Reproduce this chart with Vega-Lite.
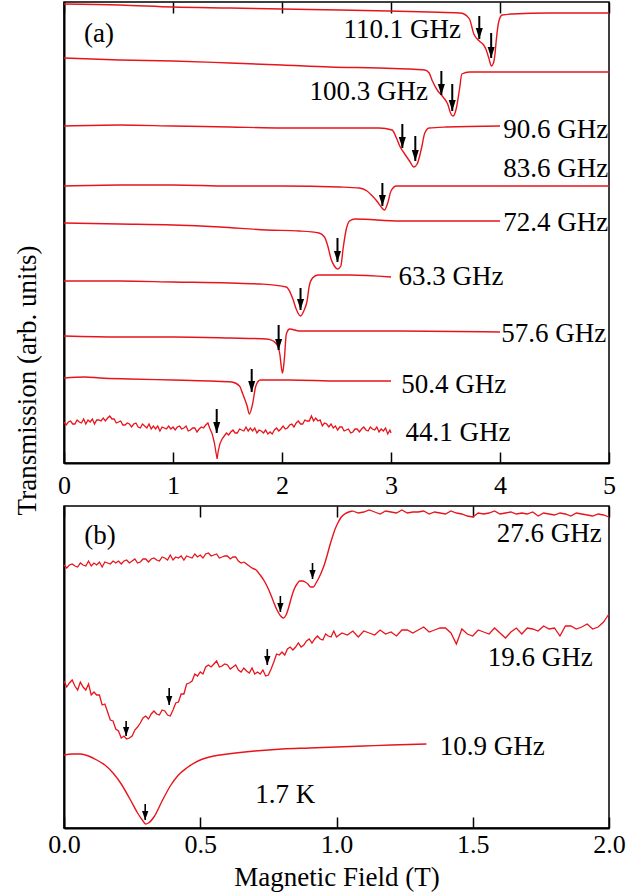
{
"$schema": "https://vega.github.io/schema/vega-lite/v6.json",
"padding": {"left": 12, "top": 0, "right": 0, "bottom": 4},
"bounds": "flush",
"spacing": 43,
"config": {
  "font": "Liberation Serif",
  "view": {"stroke": "black", "strokeWidth": 1.5},
  "axis": {"labelFont": "Liberation Serif", "labelFontSize": 26, "labelColor": "black", "labelFlush": false, "titleFont": "Liberation Serif", "titleFontSize": 27, "titleFontWeight": "normal", "titleColor": "black", "domainColor": "black", "domainWidth": 2, "tickColor": "black", "tickWidth": 1.5, "grid": false}
},
"datasets": {
  "a": [
{"f":"110.1","B":0,"T":45.9},{"f":"110.1","B":0.51,"T":45.8},{"f":"110.1","B":1.0,"T":45.6},{"f":"110.1","B":1.52,"T":45.5},{"f":"110.1","B":2.0,"T":45.4},{"f":"110.1","B":2.53,"T":45.3},{"f":"110.1","B":2.98,"T":45.2},{"f":"110.1","B":3.35,"T":45.1},{"f":"110.1","B":3.63,"T":45.0},{"f":"110.1","B":3.67,"T":44.9},{"f":"110.1","B":3.72,"T":44.4},{"f":"110.1","B":3.76,"T":42.9},{"f":"110.1","B":3.81,"T":42.2},{"f":"110.1","B":3.85,"T":41.8},{"f":"110.1","B":3.87,"T":41.4},{"f":"110.1","B":3.9,"T":40.4},{"f":"110.1","B":3.92,"T":39.7},{"f":"110.1","B":3.94,"T":40.0},{"f":"110.1","B":3.955,"T":41.0},{"f":"110.1","B":3.965,"T":42.2},{"f":"110.1","B":3.99,"T":44.2},{"f":"110.1","B":4.02,"T":44.8},{"f":"110.1","B":4.11,"T":44.9},{"f":"110.1","B":4.45,"T":45.0},{"f":"110.1","B":5.0,"T":45.0},
{"f":"100.3","B":0,"T":40.5},{"f":"100.3","B":0.51,"T":40.3},{"f":"100.3","B":1.0,"T":40.2},{"f":"100.3","B":1.52,"T":40.0},{"f":"100.3","B":2.0,"T":39.8},{"f":"100.3","B":2.44,"T":39.6},{"f":"100.3","B":2.89,"T":39.5},{"f":"100.3","B":3.17,"T":39.4},{"f":"100.3","B":3.31,"T":39.3},{"f":"100.3","B":3.35,"T":39.0},{"f":"100.3","B":3.38,"T":38.2},{"f":"100.3","B":3.43,"T":37.2},{"f":"100.3","B":3.47,"T":36.7},{"f":"100.3","B":3.52,"T":35.9},{"f":"100.3","B":3.55,"T":34.9},{"f":"100.3","B":3.57,"T":34.7},{"f":"100.3","B":3.6,"T":35.5},{"f":"100.3","B":3.63,"T":37.5},{"f":"100.3","B":3.65,"T":38.9},{"f":"100.3","B":3.72,"T":39.1},{"f":"100.3","B":4.18,"T":39.1},{"f":"100.3","B":5.0,"T":39.1},
{"f":"90.6","B":0,"T":33.7},{"f":"90.6","B":0.51,"T":33.8},{"f":"90.6","B":1.0,"T":33.7},{"f":"90.6","B":1.52,"T":33.6},{"f":"90.6","B":2.0,"T":33.5},{"f":"90.6","B":2.53,"T":33.5},{"f":"90.6","B":2.89,"T":33.5},{"f":"90.6","B":3.01,"T":33.3},{"f":"90.6","B":3.05,"T":32.5},{"f":"90.6","B":3.08,"T":31.7},{"f":"90.6","B":3.12,"T":31.0},{"f":"90.6","B":3.17,"T":30.2},{"f":"90.6","B":3.21,"T":29.6},{"f":"90.6","B":3.24,"T":29.9},{"f":"90.6","B":3.28,"T":31.5},{"f":"90.6","B":3.31,"T":33.0},{"f":"90.6","B":3.35,"T":33.5},{"f":"90.6","B":3.51,"T":33.6},{"f":"90.6","B":4.0,"T":33.7},
{"f":"83.6","B":0,"T":27.7},{"f":"83.6","B":0.51,"T":27.8},{"f":"83.6","B":1.0,"T":27.8},{"f":"83.6","B":1.52,"T":27.7},{"f":"83.6","B":2.0,"T":27.7},{"f":"83.6","B":2.53,"T":27.6},{"f":"83.6","B":2.71,"T":27.5},{"f":"83.6","B":2.78,"T":27.2},{"f":"83.6","B":2.82,"T":26.8},{"f":"83.6","B":2.87,"T":26.2},{"f":"83.6","B":2.91,"T":25.6},{"f":"83.6","B":2.94,"T":25.3},{"f":"83.6","B":2.97,"T":26.0},{"f":"83.6","B":3.0,"T":27.2},{"f":"83.6","B":3.05,"T":27.7},{"f":"83.6","B":3.54,"T":27.7},{"f":"83.6","B":4.27,"T":27.7},{"f":"83.6","B":5.0,"T":27.7},
{"f":"72.4","B":0,"T":24.0},{"f":"72.4","B":0.51,"T":23.9},{"f":"72.4","B":1.0,"T":23.8},{"f":"72.4","B":1.43,"T":23.6},{"f":"72.4","B":1.86,"T":23.3},{"f":"72.4","B":2.16,"T":23.2},{"f":"72.4","B":2.34,"T":23.0},{"f":"72.4","B":2.39,"T":22.6},{"f":"72.4","B":2.42,"T":21.7},{"f":"72.4","B":2.45,"T":20.4},{"f":"72.4","B":2.48,"T":19.7},{"f":"72.4","B":2.51,"T":19.4},{"f":"72.4","B":2.54,"T":19.7},{"f":"72.4","B":2.56,"T":21.4},{"f":"72.4","B":2.59,"T":23.4},{"f":"72.4","B":2.62,"T":24.2},{"f":"72.4","B":2.67,"T":24.4},{"f":"72.4","B":3.08,"T":24.2},{"f":"72.4","B":3.54,"T":24.2},{"f":"72.4","B":4.0,"T":24.2},
{"f":"63.3","B":0,"T":18.2},{"f":"63.3","B":0.51,"T":18.2},{"f":"63.3","B":1.0,"T":18.1},{"f":"63.3","B":1.52,"T":18.0},{"f":"63.3","B":1.8,"T":17.9},{"f":"63.3","B":2.04,"T":17.6},{"f":"63.3","B":2.1,"T":16.4},{"f":"63.3","B":2.13,"T":15.4},{"f":"63.3","B":2.17,"T":14.7},{"f":"63.3","B":2.2,"T":15.2},{"f":"63.3","B":2.23,"T":16.2},{"f":"63.3","B":2.25,"T":17.7},{"f":"63.3","B":2.28,"T":18.5},{"f":"63.3","B":2.33,"T":18.8},{"f":"63.3","B":2.62,"T":18.8},{"f":"63.3","B":3.0,"T":18.6},
{"f":"57.6","B":0,"T":12.7},{"f":"57.6","B":0.51,"T":12.6},{"f":"57.6","B":1.0,"T":12.6},{"f":"57.6","B":1.52,"T":12.5},{"f":"57.6","B":1.86,"T":12.4},{"f":"57.6","B":1.92,"T":12.2},{"f":"57.6","B":1.96,"T":11.7},{"f":"57.6","B":1.98,"T":10.9},{"f":"57.6","B":1.995,"T":9.5},{"f":"57.6","B":2.005,"T":9.0},{"f":"57.6","B":2.02,"T":10.2},{"f":"57.6","B":2.04,"T":12.9},{"f":"57.6","B":2.07,"T":13.4},{"f":"57.6","B":2.16,"T":13.2},{"f":"57.6","B":3.08,"T":13.2},{"f":"57.6","B":4.0,"T":13.1},
{"f":"50.4","B":0,"T":8.5},{"f":"50.4","B":0.19,"T":8.6},{"f":"50.4","B":0.33,"T":8.5},{"f":"50.4","B":0.6,"T":8.4},{"f":"50.4","B":1.0,"T":8.3},{"f":"50.4","B":1.34,"T":8.2},{"f":"50.4","B":1.54,"T":8.1},{"f":"50.4","B":1.61,"T":7.7},{"f":"50.4","B":1.64,"T":6.9},{"f":"50.4","B":1.68,"T":5.7},{"f":"50.4","B":1.7,"T":4.9},{"f":"50.4","B":1.73,"T":5.9},{"f":"50.4","B":1.76,"T":7.7},{"f":"50.4","B":1.8,"T":8.3},{"f":"50.4","B":2.07,"T":8.3},{"f":"50.4","B":2.53,"T":8.2},{"f":"50.4","B":3.0,"T":8.2}
  ],
  "aN": [
{"f":"44.1","B":0,"T":4.1},{"f":"44.1","B":0.02,"T":3.8},{"f":"44.1","B":0.04,"T":4.1},{"f":"44.1","B":0.06,"T":4.2},{"f":"44.1","B":0.08,"T":3.9},{"f":"44.1","B":0.1,"T":3.9},{"f":"44.1","B":0.12,"T":4.3},{"f":"44.1","B":0.14,"T":4.1},{"f":"44.1","B":0.16,"T":4.0},{"f":"44.1","B":0.18,"T":4.4},{"f":"44.1","B":0.2,"T":3.9},{"f":"44.1","B":0.22,"T":4.3},{"f":"44.1","B":0.24,"T":4.1},{"f":"44.1","B":0.26,"T":4.4},{"f":"44.1","B":0.28,"T":3.9},{"f":"44.1","B":0.3,"T":4.3},{"f":"44.1","B":0.32,"T":4.3},{"f":"44.1","B":0.34,"T":4.2},{"f":"44.1","B":0.36,"T":4.5},{"f":"44.1","B":0.38,"T":4.2},{"f":"44.1","B":0.4,"T":4.5},{"f":"44.1","B":0.42,"T":4.7},{"f":"44.1","B":0.44,"T":4.4},{"f":"44.1","B":0.46,"T":4.4},{"f":"44.1","B":0.48,"T":4.0},{"f":"44.1","B":0.5,"T":4.1},{"f":"44.1","B":0.52,"T":4.2},{"f":"44.1","B":0.54,"T":3.8},{"f":"44.1","B":0.56,"T":3.8},{"f":"44.1","B":0.58,"T":4.0},{"f":"44.1","B":0.6,"T":3.9},{"f":"44.1","B":0.62,"T":3.6},{"f":"44.1","B":0.64,"T":3.9},{"f":"44.1","B":0.66,"T":4.0},{"f":"44.1","B":0.68,"T":3.6},{"f":"44.1","B":0.7,"T":3.5},{"f":"44.1","B":0.72,"T":3.9},{"f":"44.1","B":0.74,"T":3.7},{"f":"44.1","B":0.76,"T":3.5},{"f":"44.1","B":0.78,"T":3.9},{"f":"44.1","B":0.8,"T":3.4},{"f":"44.1","B":0.82,"T":3.7},{"f":"44.1","B":0.84,"T":3.4},{"f":"44.1","B":0.86,"T":3.7},{"f":"44.1","B":0.88,"T":3.2},{"f":"44.1","B":0.9,"T":3.6},{"f":"44.1","B":0.92,"T":3.5},{"f":"44.1","B":0.94,"T":3.4},{"f":"44.1","B":0.96,"T":3.7},{"f":"44.1","B":0.98,"T":3.4},{"f":"44.1","B":1.0,"T":3.6},{"f":"44.1","B":1.02,"T":3.3},{"f":"44.1","B":1.04,"T":3.6},{"f":"44.1","B":1.06,"T":3.7},{"f":"44.1","B":1.08,"T":3.4},{"f":"44.1","B":1.1,"T":3.5},{"f":"44.1","B":1.12,"T":3.7},{"f":"44.1","B":1.14,"T":3.2},{"f":"44.1","B":1.16,"T":3.3},{"f":"44.1","B":1.18,"T":3.5},{"f":"44.1","B":1.2,"T":3.5},{"f":"44.1","B":1.22,"T":3.1},{"f":"44.1","B":1.24,"T":3.4},{"f":"44.1","B":1.26,"T":3.6},{"f":"44.1","B":1.28,"T":3.5},{"f":"44.1","B":1.3,"T":3.8},{"f":"44.1","B":1.32,"T":4.0},{"f":"44.1","B":1.34,"T":3.4},{"f":"44.1","B":1.36,"T":2.9},{"f":"44.1","B":1.38,"T":2.0},{"f":"44.1","B":1.395,"T":1.0},{"f":"44.1","B":1.405,"T":0.4},{"f":"44.1","B":1.415,"T":1.2},{"f":"44.1","B":1.43,"T":1.9},{"f":"44.1","B":1.45,"T":2.4},{"f":"44.1","B":1.47,"T":2.7},{"f":"44.1","B":1.49,"T":3.0},{"f":"44.1","B":1.51,"T":2.8},{"f":"44.1","B":1.53,"T":3.1},{"f":"44.1","B":1.55,"T":3.3},{"f":"44.1","B":1.57,"T":3.0},{"f":"44.1","B":1.59,"T":3.0},{"f":"44.1","B":1.61,"T":3.4},{"f":"44.1","B":1.63,"T":3.3},{"f":"44.1","B":1.65,"T":3.2},{"f":"44.1","B":1.67,"T":3.6},{"f":"44.1","B":1.69,"T":3.2},{"f":"44.1","B":1.71,"T":3.5},{"f":"44.1","B":1.73,"T":3.2},{"f":"44.1","B":1.75,"T":3.5},{"f":"44.1","B":1.77,"T":3.0},{"f":"44.1","B":1.79,"T":3.3},{"f":"44.1","B":1.81,"T":3.2},{"f":"44.1","B":1.83,"T":3.0},{"f":"44.1","B":1.85,"T":3.3},{"f":"44.1","B":1.87,"T":2.9},{"f":"44.1","B":1.89,"T":3.1},{"f":"44.1","B":1.91,"T":2.9},{"f":"44.1","B":1.93,"T":3.3},{"f":"44.1","B":1.95,"T":3.5},{"f":"44.1","B":1.97,"T":3.2},{"f":"44.1","B":1.99,"T":3.4},{"f":"44.1","B":2.01,"T":3.7},{"f":"44.1","B":2.03,"T":3.4},{"f":"44.1","B":2.05,"T":3.5},{"f":"44.1","B":2.07,"T":3.8},{"f":"44.1","B":2.09,"T":3.9},{"f":"44.1","B":2.11,"T":3.6},{"f":"44.1","B":2.13,"T":4.0},{"f":"44.1","B":2.15,"T":4.2},{"f":"44.1","B":2.17,"T":3.9},{"f":"44.1","B":2.19,"T":3.9},{"f":"44.1","B":2.21,"T":4.3},{"f":"44.1","B":2.23,"T":4.2},{"f":"44.1","B":2.25,"T":4.2},{"f":"44.1","B":2.27,"T":4.7},{"f":"44.1","B":2.29,"T":4.2},{"f":"44.1","B":2.31,"T":4.5},{"f":"44.1","B":2.33,"T":4.2},{"f":"44.1","B":2.35,"T":4.3},{"f":"44.1","B":2.37,"T":3.7},{"f":"44.1","B":2.39,"T":4.0},{"f":"44.1","B":2.41,"T":3.9},{"f":"44.1","B":2.43,"T":3.6},{"f":"44.1","B":2.45,"T":3.9},{"f":"44.1","B":2.47,"T":3.5},{"f":"44.1","B":2.49,"T":3.7},{"f":"44.1","B":2.51,"T":3.3},{"f":"44.1","B":2.53,"T":3.6},{"f":"44.1","B":2.55,"T":3.6},{"f":"44.1","B":2.57,"T":3.2},{"f":"44.1","B":2.59,"T":3.3},{"f":"44.1","B":2.61,"T":3.4},{"f":"44.1","B":2.63,"T":3.0},{"f":"44.1","B":2.65,"T":3.1},{"f":"44.1","B":2.67,"T":3.4},{"f":"44.1","B":2.69,"T":3.4},{"f":"44.1","B":2.71,"T":3.1},{"f":"44.1","B":2.73,"T":3.4},{"f":"44.1","B":2.75,"T":3.6},{"f":"44.1","B":2.77,"T":3.3},{"f":"44.1","B":2.79,"T":3.2},{"f":"44.1","B":2.81,"T":3.6},{"f":"44.1","B":2.83,"T":3.4},{"f":"44.1","B":2.85,"T":3.3},{"f":"44.1","B":2.87,"T":3.6},{"f":"44.1","B":2.89,"T":3.1},{"f":"44.1","B":2.91,"T":3.4},{"f":"44.1","B":2.93,"T":3.2},{"f":"44.1","B":2.95,"T":3.5},{"f":"44.1","B":2.97,"T":2.9},{"f":"44.1","B":2.99,"T":3.3},{"f":"44.1","B":3.0,"T":3.0}
  ],
  "aArrows": [
{"B":3.81,"T1":44.7,"T2":42.4},{"B":3.919,"T1":43.0,"T2":40.5},{"B":3.462,"T1":39.2,"T2":36.8},{"B":3.562,"T1":37.9,"T2":35.2},{"B":3.104,"T1":33.9,"T2":31.5},{"B":3.223,"T1":32.7,"T2":30.2},{"B":2.921,"T1":28.0,"T2":25.7},{"B":2.509,"T1":22.5,"T2":20.1},{"B":2.17,"T1":17.5,"T2":15.3},{"B":1.969,"T1":13.8,"T2":11.3},{"B":1.722,"T1":9.4,"T2":7.1},{"B":1.401,"T1":5.4,"T2":3.0}
  ],
  "aLabels": [
{"B":2.564,"T":43.3,"text":"110.1 GHz"},{"B":2.253,"T":37.1,"text":"100.3 GHz"},{"B":4.029,"T":33.3,"text":"90.6 GHz"},{"B":4.029,"T":29.4,"text":"83.6 GHz"},{"B":4.029,"T":24.0,"text":"72.4 GHz"},{"B":3.068,"T":18.6,"text":"63.3 GHz"},{"B":4.011,"T":12.9,"text":"57.6 GHz"},{"B":3.095,"T":7.8,"text":"50.4 GHz"},{"B":3.132,"T":3.0,"text":"44.1 GHz"},{"B":0.183,"T":42.9,"text":"(a)"}
  ],
  "b": [
{"f":"27.6s","B":0.66,"T":26.6},{"f":"27.6s","B":0.675,"T":26.3},{"f":"27.6s","B":0.69,"T":26.0},{"f":"27.6s","B":0.705,"T":25.8},{"f":"27.6s","B":0.72,"T":25.3},{"f":"27.6s","B":0.735,"T":24.7},{"f":"27.6s","B":0.75,"T":23.9},{"f":"27.6s","B":0.765,"T":22.9},{"f":"27.6s","B":0.78,"T":21.9},{"f":"27.6s","B":0.795,"T":21.2},{"f":"27.6s","B":0.805,"T":21.0},{"f":"27.6s","B":0.815,"T":21.3},{"f":"27.6s","B":0.825,"T":22.1},{"f":"27.6s","B":0.835,"T":23.1},{"f":"27.6s","B":0.845,"T":23.9},{"f":"27.6s","B":0.855,"T":24.4},{"f":"27.6s","B":0.865,"T":24.7},{"f":"27.6s","B":0.875,"T":24.7},{"f":"27.6s","B":0.885,"T":24.6},{"f":"27.6s","B":0.895,"T":24.4},{"f":"27.6s","B":0.905,"T":24.1},{"f":"27.6s","B":0.915,"T":24.1},{"f":"27.6s","B":0.925,"T":24.5},{"f":"27.6s","B":0.935,"T":25.0},{"f":"27.6s","B":0.945,"T":25.6},{"f":"27.6s","B":0.955,"T":26.3},{"f":"27.6s","B":0.965,"T":27.2},{"f":"27.6s","B":0.975,"T":28.2},{"f":"27.6s","B":0.985,"T":29.1},{"f":"27.6s","B":0.995,"T":29.9},{"f":"27.6s","B":1.005,"T":30.5},{"f":"27.6s","B":1.015,"T":31.0},{"f":"27.6s","B":1.03,"T":31.4},{"f":"27.6s","B":1.045,"T":31.6},{"f":"27.6s","B":1.06,"T":31.7},
{"f":"10.9","B":0.0,"T":7.3},{"f":"10.9","B":0.03,"T":7.4},{"f":"10.9","B":0.06,"T":7.4},{"f":"10.9","B":0.09,"T":7.2},{"f":"10.9","B":0.12,"T":6.8},{"f":"10.9","B":0.15,"T":6.3},{"f":"10.9","B":0.18,"T":5.5},{"f":"10.9","B":0.21,"T":4.4},{"f":"10.9","B":0.24,"T":3.0},{"f":"10.9","B":0.27,"T":1.5},{"f":"10.9","B":0.29,"T":0.7},{"f":"10.9","B":0.3,"T":0.4},{"f":"10.9","B":0.31,"T":0.5},{"f":"10.9","B":0.33,"T":1.1},{"f":"10.9","B":0.36,"T":2.7},{"f":"10.9","B":0.39,"T":4.2},{"f":"10.9","B":0.42,"T":5.3},{"f":"10.9","B":0.45,"T":6.0},{"f":"10.9","B":0.5,"T":6.8},{"f":"10.9","B":0.55,"T":7.2},{"f":"10.9","B":0.6,"T":7.4},{"f":"10.9","B":0.7,"T":7.7},{"f":"10.9","B":0.8,"T":7.9},{"f":"10.9","B":0.9,"T":8.0},{"f":"10.9","B":1.0,"T":8.1},{"f":"10.9","B":1.1,"T":8.2},{"f":"10.9","B":1.2,"T":8.3},{"f":"10.9","B":1.33,"T":8.4}
  ],
  "bN": [
{"f":"27.6a","B":0.0,"T":26.3},{"f":"27.6a","B":0.01,"T":26.0},{"f":"27.6a","B":0.02,"T":26.3},{"f":"27.6a","B":0.03,"T":26.4},{"f":"27.6a","B":0.04,"T":26.2},{"f":"27.6a","B":0.05,"T":26.1},{"f":"27.6a","B":0.06,"T":26.5},{"f":"27.6a","B":0.07,"T":26.3},{"f":"27.6a","B":0.08,"T":26.2},{"f":"27.6a","B":0.09,"T":26.7},{"f":"27.6a","B":0.1,"T":26.2},{"f":"27.6a","B":0.11,"T":26.5},{"f":"27.6a","B":0.12,"T":26.3},{"f":"27.6a","B":0.13,"T":26.6},{"f":"27.6a","B":0.14,"T":26.1},{"f":"27.6a","B":0.15,"T":26.6},{"f":"27.6a","B":0.16,"T":26.5},{"f":"27.6a","B":0.17,"T":26.4},{"f":"27.6a","B":0.18,"T":26.7},{"f":"27.6a","B":0.19,"T":26.5},{"f":"27.6a","B":0.2,"T":26.7},{"f":"27.6a","B":0.21,"T":26.4},{"f":"27.6a","B":0.22,"T":26.7},{"f":"27.6a","B":0.23,"T":26.8},{"f":"27.6a","B":0.24,"T":26.5},{"f":"27.6a","B":0.25,"T":26.7},{"f":"27.6a","B":0.26,"T":26.9},{"f":"27.6a","B":0.27,"T":26.5},{"f":"27.6a","B":0.28,"T":26.6},{"f":"27.6a","B":0.29,"T":26.9},{"f":"27.6a","B":0.3,"T":26.9},{"f":"27.6a","B":0.31,"T":26.6},{"f":"27.6a","B":0.32,"T":26.9},{"f":"27.6a","B":0.33,"T":27.0},{"f":"27.6a","B":0.34,"T":26.8},{"f":"27.6a","B":0.35,"T":26.7},{"f":"27.6a","B":0.36,"T":27.1},{"f":"27.6a","B":0.37,"T":27.0},{"f":"27.6a","B":0.38,"T":26.8},{"f":"27.6a","B":0.39,"T":27.3},{"f":"27.6a","B":0.4,"T":26.8},{"f":"27.6a","B":0.41,"T":27.1},{"f":"27.6a","B":0.42,"T":27.0},{"f":"27.6a","B":0.43,"T":27.2},{"f":"27.6a","B":0.44,"T":26.8},{"f":"27.6a","B":0.45,"T":27.2},{"f":"27.6a","B":0.46,"T":27.1},{"f":"27.6a","B":0.47,"T":27.0},{"f":"27.6a","B":0.48,"T":27.4},{"f":"27.6a","B":0.49,"T":27.1},{"f":"27.6a","B":0.5,"T":27.3},{"f":"27.6a","B":0.51,"T":27.0},{"f":"27.6a","B":0.52,"T":27.4},{"f":"27.6a","B":0.53,"T":27.5},{"f":"27.6a","B":0.54,"T":27.2},{"f":"27.6a","B":0.55,"T":27.3},{"f":"27.6a","B":0.56,"T":27.4},{"f":"27.6a","B":0.57,"T":27.0},{"f":"27.6a","B":0.58,"T":27.1},{"f":"27.6a","B":0.59,"T":27.2},{"f":"27.6a","B":0.6,"T":27.2},{"f":"27.6a","B":0.61,"T":26.9},{"f":"27.6a","B":0.62,"T":27.1},{"f":"27.6a","B":0.63,"T":27.1},{"f":"27.6a","B":0.64,"T":26.7},{"f":"27.6a","B":0.65,"T":26.5},{"f":"27.6a","B":0.66,"T":26.6},
{"f":"27.6b","B":1.06,"T":31.7},{"f":"27.6b","B":1.08,"T":31.5},{"f":"27.6b","B":1.1,"T":31.6},{"f":"27.6b","B":1.12,"T":31.8},{"f":"27.6b","B":1.14,"T":31.6},{"f":"27.6b","B":1.16,"T":31.4},{"f":"27.6b","B":1.18,"T":31.7},{"f":"27.6b","B":1.2,"T":31.6},{"f":"27.6b","B":1.22,"T":31.5},{"f":"27.6b","B":1.24,"T":31.8},{"f":"27.6b","B":1.26,"T":31.5},{"f":"27.6b","B":1.28,"T":31.6},{"f":"27.6b","B":1.3,"T":31.6},{"f":"27.6b","B":1.32,"T":31.7},{"f":"27.6b","B":1.34,"T":31.4},{"f":"27.6b","B":1.36,"T":31.6},{"f":"27.6b","B":1.38,"T":31.5},{"f":"27.6b","B":1.4,"T":31.4},{"f":"27.6b","B":1.42,"T":31.7},{"f":"27.6b","B":1.44,"T":31.5},{"f":"27.6b","B":1.46,"T":31.4},{"f":"27.6b","B":1.48,"T":31.2},{"f":"27.6b","B":1.5,"T":31.1},{"f":"27.6b","B":1.52,"T":31.5},{"f":"27.6b","B":1.54,"T":31.4},{"f":"27.6b","B":1.56,"T":31.5},{"f":"27.6b","B":1.58,"T":31.7},{"f":"27.6b","B":1.6,"T":31.4},{"f":"27.6b","B":1.62,"T":31.5},{"f":"27.6b","B":1.64,"T":31.6},{"f":"27.6b","B":1.66,"T":31.4},{"f":"27.6b","B":1.68,"T":31.5},{"f":"27.6b","B":1.7,"T":31.4},{"f":"27.6b","B":1.72,"T":31.6},{"f":"27.6b","B":1.74,"T":31.2},{"f":"27.6b","B":1.76,"T":31.5},{"f":"27.6b","B":1.78,"T":31.4},{"f":"27.6b","B":1.8,"T":31.3},{"f":"27.6b","B":1.82,"T":31.5},{"f":"27.6b","B":1.84,"T":31.4},{"f":"27.6b","B":1.86,"T":31.2},{"f":"27.6b","B":1.88,"T":31.5},{"f":"27.6b","B":1.9,"T":31.4},{"f":"27.6b","B":1.92,"T":31.3},{"f":"27.6b","B":1.94,"T":31.2},{"f":"27.6b","B":1.96,"T":31.4},{"f":"27.6b","B":1.98,"T":31.3},{"f":"27.6b","B":2.0,"T":31.1},
{"f":"19.6","B":0.0,"T":14.7},{"f":"19.6","B":0.01,"T":14.1},{"f":"19.6","B":0.02,"T":14.5},{"f":"19.6","B":0.03,"T":14.8},{"f":"19.6","B":0.04,"T":14.2},{"f":"19.6","B":0.05,"T":13.8},{"f":"19.6","B":0.06,"T":14.6},{"f":"19.6","B":0.07,"T":14.1},{"f":"19.6","B":0.08,"T":13.8},{"f":"19.6","B":0.09,"T":14.4},{"f":"19.6","B":0.1,"T":13.3},{"f":"19.6","B":0.11,"T":13.6},{"f":"19.6","B":0.12,"T":13.3},{"f":"19.6","B":0.13,"T":13.3},{"f":"19.6","B":0.14,"T":12.3},{"f":"19.6","B":0.15,"T":12.4},{"f":"19.6","B":0.16,"T":11.6},{"f":"19.6","B":0.17,"T":10.8},{"f":"19.6","B":0.18,"T":10.7},{"f":"19.6","B":0.19,"T":9.9},{"f":"19.6","B":0.2,"T":9.7},{"f":"19.6","B":0.21,"T":9.0},{"f":"19.6","B":0.22,"T":9.2},{"f":"19.6","B":0.23,"T":8.9},{"f":"19.6","B":0.24,"T":9.0},{"f":"19.6","B":0.25,"T":9.2},{"f":"19.6","B":0.26,"T":9.8},{"f":"19.6","B":0.27,"T":10.1},{"f":"19.6","B":0.28,"T":10.5},{"f":"19.6","B":0.29,"T":11.0},{"f":"19.6","B":0.3,"T":11.2},{"f":"19.6","B":0.31,"T":10.9},{"f":"19.6","B":0.32,"T":11.4},{"f":"19.6","B":0.33,"T":11.7},{"f":"19.6","B":0.34,"T":11.4},{"f":"19.6","B":0.35,"T":11.3},{"f":"19.6","B":0.36,"T":11.8},{"f":"19.6","B":0.37,"T":11.7},{"f":"19.6","B":0.38,"T":11.3},{"f":"19.6","B":0.39,"T":11.2},{"f":"19.6","B":0.4,"T":11.8},{"f":"19.6","B":0.41,"T":12.5},{"f":"19.6","B":0.42,"T":12.6},{"f":"19.6","B":0.43,"T":13.4},{"f":"19.6","B":0.44,"T":13.4},{"f":"19.6","B":0.45,"T":14.4},{"f":"19.6","B":0.46,"T":14.5},{"f":"19.6","B":0.47,"T":14.7},{"f":"19.6","B":0.48,"T":15.4},{"f":"19.6","B":0.49,"T":15.2},{"f":"19.6","B":0.5,"T":15.6},{"f":"19.6","B":0.51,"T":15.4},{"f":"19.6","B":0.52,"T":16.1},{"f":"19.6","B":0.53,"T":16.3},{"f":"19.6","B":0.54,"T":16.1},{"f":"19.6","B":0.55,"T":16.4},{"f":"19.6","B":0.56,"T":16.7},{"f":"19.6","B":0.57,"T":16.1},{"f":"19.6","B":0.58,"T":16.2},{"f":"19.6","B":0.59,"T":16.4},{"f":"19.6","B":0.6,"T":16.3},{"f":"19.6","B":0.61,"T":15.9},{"f":"19.6","B":0.62,"T":16.1},{"f":"19.6","B":0.63,"T":16.3},{"f":"19.6","B":0.64,"T":15.8},{"f":"19.6","B":0.65,"T":15.6},{"f":"19.6","B":0.66,"T":16.0},{"f":"19.6","B":0.67,"T":15.7},{"f":"19.6","B":0.68,"T":15.5},{"f":"19.6","B":0.69,"T":16.0},{"f":"19.6","B":0.7,"T":15.4},{"f":"19.6","B":0.71,"T":15.6},{"f":"19.6","B":0.72,"T":15.4},{"f":"19.6","B":0.73,"T":15.8},{"f":"19.6","B":0.74,"T":15.2},{"f":"19.6","B":0.75,"T":15.3},{"f":"19.6","B":0.76,"T":15.9},{"f":"19.6","B":0.77,"T":16.6},{"f":"19.6","B":0.78,"T":17.4},{"f":"19.6","B":0.79,"T":17.3},{"f":"19.6","B":0.8,"T":17.6},{"f":"19.6","B":0.81,"T":17.3},{"f":"19.6","B":0.82,"T":17.9},{"f":"19.6","B":0.83,"T":18.1},{"f":"19.6","B":0.84,"T":17.8},{"f":"19.6","B":0.85,"T":18.1},{"f":"19.6","B":0.86,"T":18.5},{"f":"19.6","B":0.87,"T":18.1},{"f":"19.6","B":0.88,"T":18.3},{"f":"19.6","B":0.89,"T":18.7},{"f":"19.6","B":0.9,"T":18.9},{"f":"19.6","B":0.91,"T":18.5},{"f":"19.6","B":0.92,"T":18.9},{"f":"19.6","B":0.93,"T":19.2},{"f":"19.6","B":0.94,"T":18.9},{"f":"19.6","B":0.95,"T":18.8},{"f":"19.6","B":0.96,"T":19.4},{"f":"19.6","B":0.97,"T":19.2},{"f":"19.6","B":0.98,"T":19.1},{"f":"19.6","B":0.99,"T":19.7},{"f":"19.6","B":1.0,"T":19.1},{"f":"19.6","B":1.02,"T":19.5},{"f":"19.6","B":1.04,"T":19.3},{"f":"19.6","B":1.06,"T":19.7},{"f":"19.6","B":1.08,"T":19.1},{"f":"19.6","B":1.1,"T":19.7},{"f":"19.6","B":1.12,"T":19.5},{"f":"19.6","B":1.14,"T":19.3},{"f":"19.6","B":1.16,"T":19.8},{"f":"19.6","B":1.18,"T":19.4},{"f":"19.6","B":1.2,"T":19.6},{"f":"19.6","B":1.22,"T":19.2},{"f":"19.6","B":1.24,"T":19.8},{"f":"19.6","B":1.26,"T":19.8},{"f":"19.6","B":1.28,"T":19.5},{"f":"19.6","B":1.3,"T":19.8},{"f":"19.6","B":1.32,"T":20.1},{"f":"19.6","B":1.34,"T":19.6},{"f":"19.6","B":1.36,"T":19.8},{"f":"19.6","B":1.38,"T":20.0},{"f":"19.6","B":1.4,"T":20.0},{"f":"19.6","B":1.42,"T":19.5},{"f":"19.6","B":1.44,"T":18.4},{"f":"19.6","B":1.46,"T":19.9},{"f":"19.6","B":1.48,"T":19.4},{"f":"19.6","B":1.5,"T":19.2},{"f":"19.6","B":1.52,"T":19.8},{"f":"19.6","B":1.54,"T":19.6},{"f":"19.6","B":1.56,"T":19.4},{"f":"19.6","B":1.58,"T":20.0},{"f":"19.6","B":1.6,"T":19.5},{"f":"19.6","B":1.62,"T":19.0},{"f":"19.6","B":1.64,"T":19.6},{"f":"19.6","B":1.66,"T":20.0},{"f":"19.6","B":1.68,"T":19.4},{"f":"19.6","B":1.7,"T":20.0},{"f":"19.6","B":1.72,"T":19.9},{"f":"19.6","B":1.74,"T":19.7},{"f":"19.6","B":1.76,"T":20.2},{"f":"19.6","B":1.78,"T":19.9},{"f":"19.6","B":1.8,"T":20.0},{"f":"19.6","B":1.82,"T":19.2},{"f":"19.6","B":1.84,"T":20.2},{"f":"19.6","B":1.86,"T":20.2},{"f":"19.6","B":1.88,"T":19.9},{"f":"19.6","B":1.9,"T":20.1},{"f":"19.6","B":1.92,"T":20.4},{"f":"19.6","B":1.94,"T":19.9},{"f":"19.6","B":1.96,"T":20.1},{"f":"19.6","B":1.98,"T":20.6},{"f":"19.6","B":1.99,"T":21.0},{"f":"19.6","B":2.0,"T":21.4}
  ],
  "bArrows": [
{"B":0.794,"T1":23.2,"T2":21.6},{"B":0.912,"T1":26.5,"T2":24.9},{"B":0.228,"T1":10.7,"T2":9.2},{"B":0.386,"T1":14.0,"T2":12.3},{"B":0.746,"T1":17.9,"T2":16.3},{"B":0.298,"T1":2.4,"T2":0.8}
  ],
  "bLabels": [
{"B":1.588,"T":29.4,"text":"27.6 GHz"},{"B":1.555,"T":17.0,"text":"19.6 GHz"},{"B":1.379,"T":8.1,"text":"10.9 GHz"},{"B":0.702,"T":3.3,"text":"1.7 K"},{"B":0.074,"T":29.2,"text":"(b)"}
  ]
},
"vconcat": [
  {
    "width": 545, "height": 461,
    "resolve": {"axis": {"x": "independent"}},
    "layer": [
      {"data": {"name": "a"},
       "mark": {"type": "line", "color": "#e8141c", "strokeWidth": 1.4, "interpolate": "monotone"},
       "encoding": {
         "x": {"field": "B", "type": "quantitative", "scale": {"domain": [0, 5], "nice": false}, "axis": {"orient": "bottom", "values": [0,1,2,3,4,5], "tickSize": -11, "labelPadding": 20, "title": null, "format": "d"}},
         "y": {"field": "T", "type": "quantitative", "scale": {"domain": [0, 46.1], "nice": false}, "axis": {"ticks": false, "labels": false, "title": "Transmission (arb. units)", "titleAngle": 270, "titleX": -29, "titleY": 378, "titleAlign": "center", "titleBaseline": "alphabetic"}},
         "detail": {"field": "f"}
       }},
      {"data": {"name": "aN"},
       "mark": {"type": "line", "color": "#e8141c", "strokeWidth": 1.3},
       "encoding": {
         "x": {"field": "B", "type": "quantitative", "axis": null},
         "y": {"field": "T", "type": "quantitative"},
         "detail": {"field": "f"}
       }},
      {"data": {"name": "aArrows"},
       "mark": {"type": "rule", "color": "black", "strokeWidth": 2},
       "encoding": {
         "x": {"field": "B", "type": "quantitative", "axis": {"orient": "top", "values": [0,1,2,3,4,5], "tickSize": -11, "labels": false, "domain": false, "title": null}},
         "y": {"field": "T1", "type": "quantitative"},
         "y2": {"field": "T2"}
       }},
      {"data": {"name": "aArrows"},
       "mark": {"type": "point", "shape": "M-0.32,-1L0.32,-1L0,0Z", "size": 484, "filled": true, "color": "black", "opacity": 1},
       "encoding": {
         "x": {"field": "B", "type": "quantitative", "axis": null},
         "y": {"field": "T2", "type": "quantitative"}
       }},
      {"data": {"name": "aLabels"},
       "mark": {"type": "text", "align": "left", "baseline": "middle", "font": "Liberation Serif", "fontSize": 27, "color": "black"},
       "encoding": {
         "x": {"field": "B", "type": "quantitative", "axis": null},
         "y": {"field": "T", "type": "quantitative"},
         "text": {"field": "text"}
       }}
    ]
  },
  {
    "width": 545, "height": 322,
    "resolve": {"axis": {"x": "independent"}},
    "layer": [
      {"data": {"name": "b"},
       "mark": {"type": "line", "color": "#e8141c", "strokeWidth": 1.4, "interpolate": "monotone"},
       "encoding": {
         "x": {"field": "B", "type": "quantitative", "scale": {"domain": [0, 2], "nice": false}, "axis": {"orient": "bottom", "values": [0,0.5,1,1.5,2], "tickSize": -11, "labelPadding": 14, "format": ".1f", "title": "Magnetic Field (T)", "titlePadding": 7}},
         "y": {"field": "T", "type": "quantitative", "scale": {"domain": [0, 32.2], "nice": false}, "axis": {"ticks": false, "labels": false, "title": null}},
         "detail": {"field": "f"}
       }},
      {"data": {"name": "bN"},
       "mark": {"type": "line", "color": "#e8141c", "strokeWidth": 1.3},
       "encoding": {
         "x": {"field": "B", "type": "quantitative", "axis": null},
         "y": {"field": "T", "type": "quantitative"},
         "detail": {"field": "f"}
       }},
      {"data": {"name": "bArrows"},
       "mark": {"type": "rule", "color": "black", "strokeWidth": 1.6},
       "encoding": {
         "x": {"field": "B", "type": "quantitative", "axis": {"orient": "top", "values": [0,0.5,1,1.5,2], "tickSize": -11, "labels": false, "domain": false, "title": null}},
         "y": {"field": "T1", "type": "quantitative"},
         "y2": {"field": "T2"}
       }},
      {"data": {"name": "bArrows"},
       "mark": {"type": "point", "shape": "M-0.35,-1L0.35,-1L0,0Z", "size": 324, "filled": true, "color": "black", "opacity": 1},
       "encoding": {
         "x": {"field": "B", "type": "quantitative", "axis": null},
         "y": {"field": "T2", "type": "quantitative"}
       }},
      {"data": {"name": "bLabels"},
       "mark": {"type": "text", "align": "left", "baseline": "middle", "font": "Liberation Serif", "fontSize": 27, "color": "black"},
       "encoding": {
         "x": {"field": "B", "type": "quantitative", "axis": null},
         "y": {"field": "T", "type": "quantitative"},
         "text": {"field": "text"}
       }}
    ]
  }
]
}
